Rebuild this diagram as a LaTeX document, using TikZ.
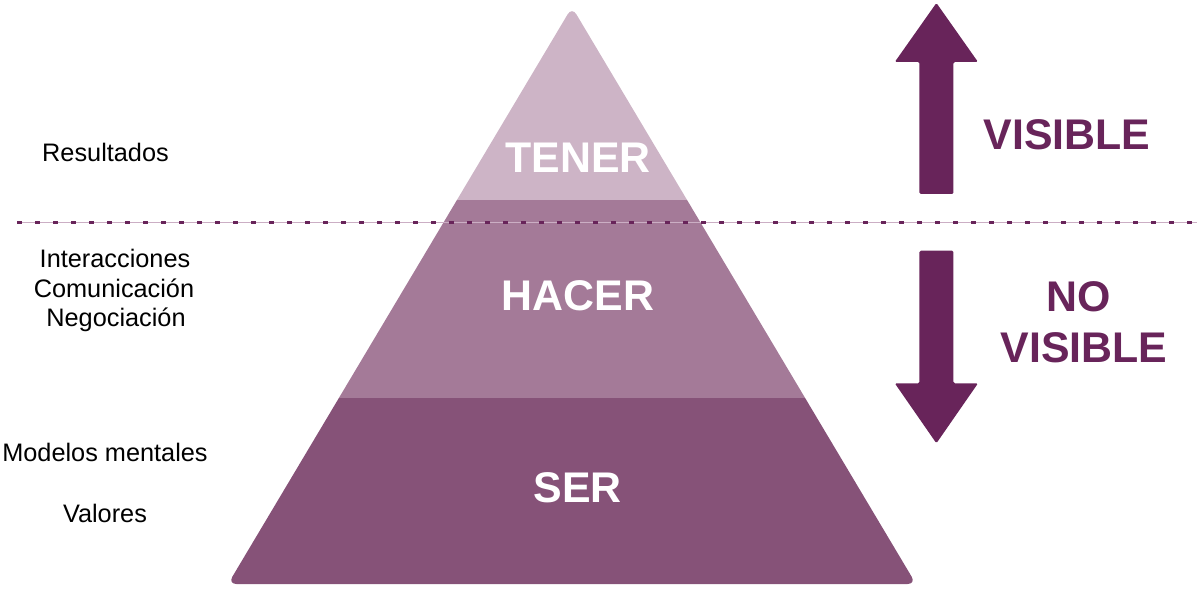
\documentclass[tikz,border=0pt]{standalone}
\usepackage{fontspec}
\setmainfont{Liberation Sans}
\usetikzlibrary{positioning}

\definecolor{tener}{HTML}{CDB4C6}
\definecolor{hacer}{HTML}{A47A98}
\definecolor{ser}{HTML}{865278}
\definecolor{plum}{HTML}{68245A}
\definecolor{plumline}{HTML}{CBAEC4}

\begin{document}
\begin{tikzpicture}[
	level/.style={text=white, font=\bfseries\fontsize{30.5}{36}\selectfont, anchor=base, inner sep=0pt},
	side/.style={text=plum, font=\bfseries\fontsize{30.5}{36}\selectfont, anchor=base, inner sep=0pt},
	label/.style={text=black, font=\fontsize{18}{22}\selectfont, anchor=base, inner sep=0pt},
	bigarrow/.style={fill=plum, rounded corners=1pt}
]

%\Grid{0}{30}{0}{15}
\useasboundingbox (0, 0) rectangle (30, 14.925);

\coordinate (apex) at (14.3, 14.75);
\coordinate (bl) at (5.7, 0.325);
\coordinate (br) at (22.9, 0.325);

\begin{scope}
	\clip [rounded corners=6pt] (apex) -- (bl) -- (br) -- cycle;
	\foreach \lo/\hi/\col in {0/4.975/ser, 4.975/9.925/hacer, 9.925/15/tener}
		\fill [\col] (0, \lo) rectangle (30, \hi);
\end{scope}

\node (tener) at (14.45, 10.6) [level] {TENER};
\node (hacer) at (14.45, 7.15) [level] {HACER};
\node (ser) at (14.44, 2.35) [level] {SER};

\node (res) at (2.6375, 10.8825) [label] {Resultados};
\node (inter) at (2.875, 8.225) [label] {Interacciones};
\node (comu) at (2.85, 7.475) [label] {Comunicación};
\node (nego) at (2.9, 6.75) [label] {Negociación};
\node (model) at (2.625, 3.375) [label] {Modelos mentales};
\node (valor) at (2.625, 1.85) [label] {Valores};

% frontera visible / no visible
\coordinate (lineL) at (0.425, 9.36);
\coordinate (lineR) at (29.925, 9.36);
\draw [plumline, line width=1pt] (lineL) -- (lineR);
\draw [plum, line width=2.5pt, dash pattern=on 0.125cm off 0.325cm] (lineL) -- (lineR);

% flechas
\def\arrX{23.41}
\fill [bigarrow] (\arrX, 14.85) -- (\arrX+1.04, 13.375) -- (\arrX+0.425, 13.375) -- (\arrX+0.425, 10.075)
	-- (\arrX-0.425, 10.075) -- (\arrX-0.425, 13.375) -- (\arrX-1.04, 13.375) -- cycle;
\fill [bigarrow] (\arrX, 3.8425) -- (\arrX+1.04, 5.3425) -- (\arrX+0.425, 5.3425) -- (\arrX+0.425, 8.6575)
	-- (\arrX-0.425, 8.6575) -- (\arrX-0.425, 5.3425) -- (\arrX-1.04, 5.3425) -- cycle;

\node (vis) at (26.675, 11.175) [side] {VISIBLE};
\node (no) at (26.975, 7.125) [side] {NO};
\node (novis) at (27.1, 5.85) [side] {VISIBLE};

\end{tikzpicture}
\end{document}
